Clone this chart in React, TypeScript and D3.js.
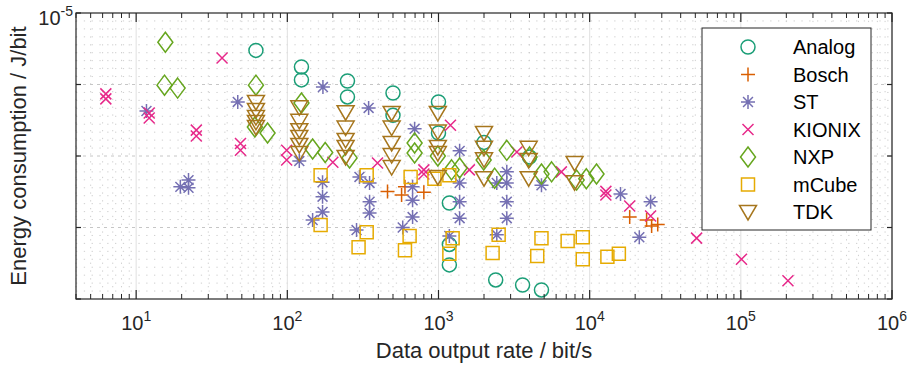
import React from 'react'
import * as d3 from 'd3'

type Pt = [number, number] // [bit/s, J/bit]

const analog: Pt[] = [
  [62, 3.0e-6], [124, 1.76e-6], [124, 1.16e-6], [250, 1.12e-6], [250, 6.7e-7],
  [500, 7.6e-7], [500, 3.7e-7], [1000, 5.7e-7], [1000, 2.1e-7], [2000, 1.55e-7],
  [4000, 9.7e-8], [1180, 2.2e-8], [1180, 5.8e-9], [1180, 3.0e-9], [2390, 1.85e-9],
  [3600, 1.57e-9], [4800, 1.34e-9],
]
const bosch: Pt[] = [
  [460, 3.2e-8], [570, 2.85e-8], [600, 3.7e-8], [800, 3.1e-8],
  [18400, 1.4e-8], [23800, 1.27e-8], [25700, 1.05e-8], [28200, 1.1e-8],
]
const st: Pt[] = [
  [11.7, 4.26e-7], [19.6, 3.7e-8], [22.2, 4.6e-8], [22.2, 3.6e-8], [47, 5.7e-7],
  [120, 8.5e-8], [171, 4.3e-8], [171, 2.7e-8], [171, 1.65e-8], [147, 1.27e-8],
  [300, 5.1e-8], [350, 4.2e-8], [350, 2.3e-8], [350, 1.6e-8], [287, 9.2e-9],
  [674, 3.7e-8], [674, 2.4e-8], [674, 1.4e-8], [580, 1.0e-8],
  [1380, 1.18e-7], [1380, 4.2e-8], [1380, 2.3e-8], [1380, 1.35e-8], [1180, 7.6e-9],
  [2830, 6.0e-8], [2430, 4.2e-8], [2830, 4.2e-8], [2830, 2.3e-8], [2830, 1.35e-8], [2430, 7.9e-9],
  [4800, 3.9e-8], [172, 9.2e-7], [345, 4.7e-7], [695, 2.4e-7],
  [16000, 2.95e-8], [25300, 2.3e-8], [21300, 7.3e-9],
]
const kionix: Pt[] = [
  [6.3, 7.4e-7], [6.3, 6.3e-7], [12.2, 4.0e-7], [12.2, 3.4e-7], [25, 2.3e-7], [25, 1.9e-7],
  [37, 2.35e-6], [49, 1.5e-7], [49, 1.2e-7], [99, 1.2e-7], [99, 8.8e-8], [200, 8.2e-8],
  [395, 8.0e-8], [800, 6.4e-8], [800, 5.6e-8], [1200, 2.7e-7], [1600, 6.4e-8],
  [3300, 1.14e-7], [6500, 6.0e-8], [12800, 3.2e-8], [12800, 2.85e-8], [18400, 2.0e-8],
  [25300, 1.45e-8], [51000, 7.1e-9], [101000, 3.6e-9], [205000, 1.8e-9],
]
const nxp: Pt[] = [
  [15.6, 3.9e-6], [15.4, 9.8e-7], [18.8, 8.9e-7], [62, 9.8e-7], [61, 2.55e-7], [74, 2.1e-7],
  [124, 5.5e-7], [147, 1.25e-7], [178, 1.12e-7], [258, 9.4e-8], [695, 1.52e-7], [695, 1.1e-7],
  [990, 1.0e-7], [1220, 6.4e-8], [1380, 6.8e-8], [1990, 8.8e-8], [2350, 4.9e-8],
  [2830, 1.2e-7], [4000, 9.7e-8], [4800, 5.6e-8], [5600, 6.0e-8], [8200, 4.6e-8],
  [9500, 4.8e-8], [11100, 5.6e-8],
]
const mcube: Pt[] = [
  [166, 5.4e-8], [166, 1.08e-8], [335, 5.4e-8], [335, 8.6e-9], [296, 5.3e-9],
  [654, 5.1e-8], [644, 7.6e-9], [600, 4.8e-9], [940, 4.8e-8], [1180, 5.4e-8],
  [1240, 7.1e-9], [1180, 4.3e-9], [2500, 7.9e-9], [2280, 4.4e-9], [4800, 7.1e-9],
  [4500, 4.0e-9], [7150, 6.5e-9], [9000, 7.3e-9], [9000, 3.6e-9], [13100, 3.9e-9], [15600, 4.3e-9],
]
const tdk: Pt[] = [
  [62, 5.7e-7], [62, 4.4e-7], [62, 3.5e-7], [62, 3.0e-7], [62, 2.55e-7],
  [120, 4.8e-7], [120, 3.1e-7], [120, 2.3e-7], [120, 1.85e-7], [120, 1.43e-7], [120, 1.1e-7],
  [243, 4.1e-7], [243, 2.5e-7], [243, 1.68e-7], [243, 1.34e-7], [243, 9.7e-8],
  [490, 4.0e-7], [490, 2.5e-7], [490, 1.52e-7], [490, 1.03e-7], [490, 7.0e-8],
  [990, 4.0e-7], [990, 2.2e-7], [990, 1.34e-7], [990, 1.1e-7], [990, 5.1e-8],
  [2000, 2.1e-7], [2000, 1.3e-7], [2000, 9.0e-8], [2000, 4.9e-8],
  [3950, 1.3e-7], [3950, 8.8e-8], [3950, 4.9e-8],
  [7950, 8.0e-8], [7950, 4.3e-8],
]

const seriesNames = ['Analog', 'Bosch', 'ST', 'KIONIX', 'NXP', 'mCube', 'TDK']
const seriesColors = ['#1b9e77', '#d95f02', '#7570b3', '#e7298a', '#66a61e', '#e6ab02', '#a6761d']
const seriesShapes = ['circle', 'plus', 'asterisk', 'x', 'diamond', 'square', 'triangle']
const seriesData = [analog, bosch, st, kionix, nxp, mcube, tdk]

const xDecades = [1, 2, 3, 4, 5, 6]
const yDecades = [-5, -6, -7, -8, -9]

const W = 910, H = 366
const M = { left: 76, right: 892, top: 13, bottom: 299 }
const FONT = '"Liberation Sans", Arial, Helvetica, sans-serif'
const AX = '#262626'

function markerPath(shape: string): string {
  const a = 7, d = a * 0.7071
  switch (shape) {
    case 'plus': return `M${-a},0H${a}M0,${-a}V${a}`
    case 'x': return 'M-5.5,-5.5L5.5,5.5M-5.5,5.5L5.5,-5.5'
    case 'asterisk': return `M${-a},0H${a}M0,${-a}V${a}M${-d},${-d}L${d},${d}M${-d},${d}L${d},${-d}`
    case 'diamond': return 'M0,-10L7.5,0L0,10L-7.5,0Z'
    case 'square': return 'M-6.5,-6.5H6.5V6.5H-6.5Z'
    case 'triangle': return 'M-8.5,-6.5L8.5,-6.5L0,8Z'
    default: return ''
  }
}

function Marker({ shape, x, y, color }: { shape: string; x: number; y: number; color: string }) {
  if (shape === 'circle')
    return <circle cx={x} cy={y} r={7} fill="none" stroke={color} strokeWidth={1.5} />
  return <path d={markerPath(shape)} transform={`translate(${x},${y})`} fill="none" stroke={color} strokeWidth={1.5} />
}

export default function App() {
  const x = d3.scaleLog().domain([4, 1e6]).range([M.left, M.right])
  const y = d3.scaleLog().domain([1e-9, 1e-5]).range([M.bottom, M.top])

  // x minor positions k*10^n
  const xMinor: number[] = []
  for (let e = 0; e <= 5; e++) for (let k = 2; k <= 9; k++) {
    const v = k * Math.pow(10, e)
    if (v >= 4 && v <= 1e6) xMinor.push(v)
  }
  // y minor gridlines (evenly spaced within each decade)
  const yMinor: number[] = []
  for (let e = -9; e < -5; e++) for (let k = 1; k <= 8; k++) yMinor.push(Math.pow(10, e + k / 9))

  const legendY = [47, 74.5, 102, 129.5, 157, 184.5, 212]

  return (
    <svg width={W} height={H} style={{ position: 'absolute', left: 0, top: 0, background: '#fff' }} fontFamily={FONT}>
      <rect x={0} y={0} width={W} height={H} fill="#fff" />
      {/* grid */}
      <g>
        {xMinor.map(v => (
          <line key={'xm' + v} x1={x(v)} x2={x(v)} y1={M.top} y2={M.bottom} stroke="#cfcfcf" strokeWidth={1} strokeDasharray="1.3,6.5" />
        ))}
        {yMinor.map(v => (
          <line key={'ym' + v} x1={M.left} x2={M.right} y1={y(v)} y2={y(v)} stroke="#cfcfcf" strokeWidth={1} strokeDasharray="1.3,6.5" />
        ))}
        {xDecades.map(e => (
          <line key={'xg' + e} x1={x(10 ** e)} x2={x(10 ** e)} y1={M.top} y2={M.bottom} stroke="#e0e0e0" strokeWidth={1} />
        ))}
        {yDecades.slice(1, 4).map(e => (
          <line key={'yg' + e} x1={M.left} x2={M.right} y1={y(10 ** e)} y2={y(10 ** e)} stroke="#c6c6c6" strokeWidth={1} strokeDasharray="3,4" />
        ))}
      </g>
      {/* data */}
      <g>
        {seriesData.map((data, si) => (
          <g key={seriesNames[si]}>
            {data.map((p, i) => (
              <Marker key={i} shape={seriesShapes[si]} x={x(p[0])} y={y(p[1])} color={seriesColors[si]} />
            ))}
          </g>
        ))}
      </g>
      {/* axes box and ticks */}
      <rect x={M.left} y={M.top} width={M.right - M.left} height={M.bottom - M.top} fill="none" stroke={AX} strokeWidth={1.2} />
      {xMinor.map(v => (
        <g key={'xt' + v} stroke={AX} strokeWidth={1}>
          <line x1={x(v)} x2={x(v)} y1={M.bottom} y2={M.bottom - 5} />
          <line x1={x(v)} x2={x(v)} y1={M.top} y2={M.top + 5} />
        </g>
      ))}
      {xDecades.map(e => (
        <g key={'xT' + e} stroke={AX} strokeWidth={1.2}>
          <line x1={x(10 ** e)} x2={x(10 ** e)} y1={M.bottom} y2={M.bottom - 9} />
          <line x1={x(10 ** e)} x2={x(10 ** e)} y1={M.top} y2={M.top + 9} />
        </g>
      ))}
      {yDecades.map(e => (
        <g key={'yT' + e} stroke={AX} strokeWidth={1.2}>
          <line x1={M.left} x2={M.left + 5} y1={y(10 ** e)} y2={y(10 ** e)} />
          <line x1={M.right} x2={M.right - 5} y1={y(10 ** e)} y2={y(10 ** e)} />
        </g>
      ))}
      {/* tick labels */}
      {xDecades.map(e => (
        <text key={'xl' + e} x={x(10 ** e)} y={330} textAnchor="middle" fontSize={20} fill={AX}>
          10<tspan fontSize={14} dy={-9}>{e}</tspan>
        </text>
      ))}
      <text x={73} y={25} textAnchor="end" fontSize={20} fill={AX}>
        10<tspan fontSize={14} dy={-9}>-5</tspan>
      </text>
      {/* axis titles */}
      <text x={(M.left + M.right) / 2} y={358} textAnchor="middle" fontSize={22} fill={AX}>Data output rate / bit/s</text>
      <text transform={`translate(26,${(M.top + M.bottom) / 2}) rotate(-90)`} textAnchor="middle" fontSize={22} fill={AX}>Energy consumption / J/bit</text>
      {/* legend */}
      <g>
        <rect x={702} y={28} width={169} height={202} fill="#fff" stroke={AX} strokeWidth={1} />
        {seriesNames.map((n, i) => (
          <g key={'lg' + n}>
            <Marker shape={seriesShapes[i]} x={748} y={legendY[i]} color={seriesColors[i]} />
            <text x={793} y={legendY[i] + 7} fontSize={20} fill="#000">{n}</text>
          </g>
        ))}
      </g>
    </svg>
  )
}
